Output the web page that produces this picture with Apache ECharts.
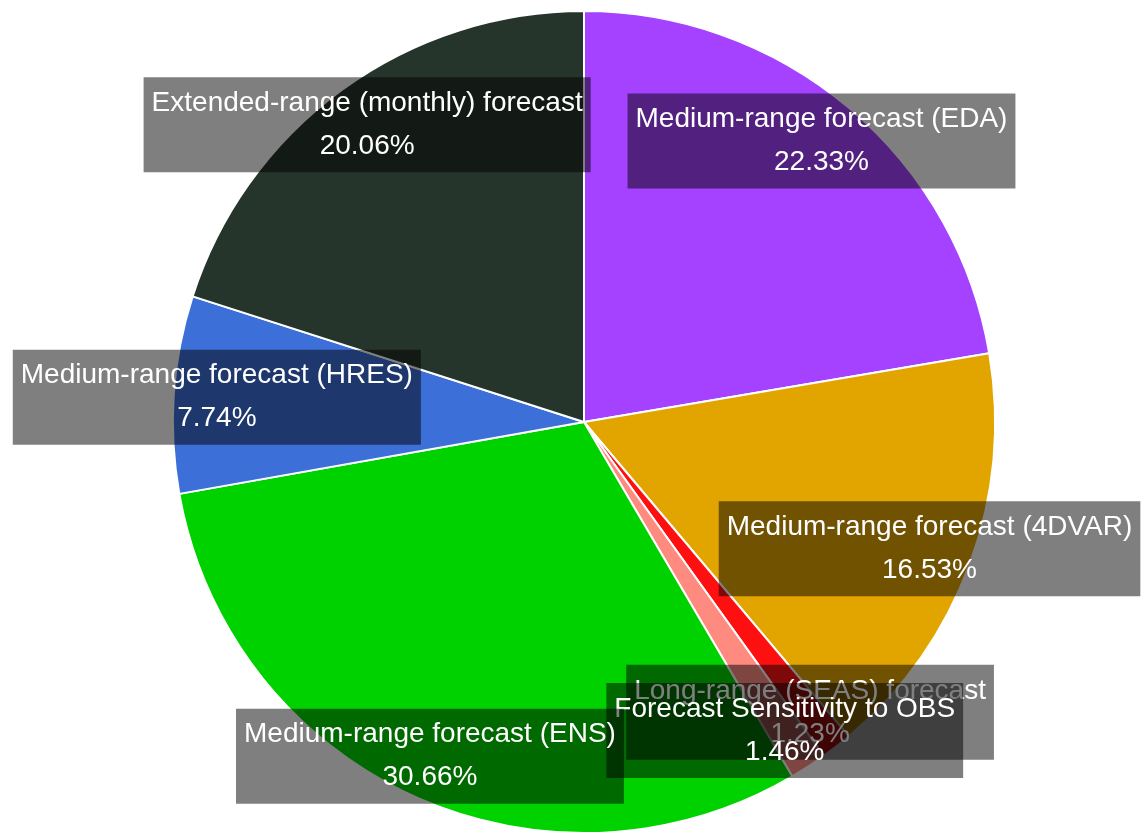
<!DOCTYPE html>
<html>
<head>
<meta charset="utf-8">
<script src="https://cdn.jsdelivr.net/npm/echarts@6/dist/echarts.min.js"></script>
<style>
html,body{margin:0;padding:0;background:#fff;}
#chart{width:1141px;height:835px;}
</style>
</head>
<body>
<div id="chart"></div>
<script>
var categories = [
  'Medium-range forecast (EDA)',
  'Medium-range forecast (4DVAR)',
  'Long-range (SEAS) forecast',
  'Forecast Sensitivity to OBS',
  'Medium-range forecast (ENS)',
  'Medium-range forecast (HRES)',
  'Extended-range (monthly) forecast'
];
var shares = [22.33, 16.53, 1.23, 1.46, 30.66, 7.74, 20.06];
var colors = ['#a442ff', '#e2a500', '#ff1010', '#ff8a80', '#00d200', '#3c6fd8', '#26352b'];

var pieData = categories.map(function (n, i) {
  return { name: n, value: shares[i], itemStyle: { color: colors[i] } };
});
var labelData = categories.map(function (n, i) {
  return { name: n, value: shares[i] };
});

var chart = echarts.init(document.getElementById('chart'));
chart.setOption({
  animation: false,
  series: [
    {
      type: 'pie',
      center: [584, 422],
      radius: [0, 411],
      startAngle: 90,
      clockwise: true,
      data: pieData,
      itemStyle: { borderColor: '#ffffff', borderWidth: 2 },
      label: { show: false },
      labelLine: { show: false },
      silent: true,
      z: 1
    },
    {
      type: 'pie',
      center: [584, 422],
      radius: [319, 411],
      startAngle: 90,
      clockwise: true,
      avoidLabelOverlap: false,
      minShowLabelAngle: 0,
      data: labelData,
      silent: true,
      z: 5,
      itemStyle: { color: 'rgba(0,0,0,0)', borderWidth: 0 },
      labelLine: { show: false },
      labelLayout: { hideOverlap: false },
      label: {
        show: true,
        position: 'inside',
        formatter: function (p) { return p.name + '\n' + p.value.toFixed(2) + '%'; },
        color: '#ffffff',
        fontFamily: 'Liberation Sans, Arial, sans-serif',
        fontSize: 28,
        lineHeight: 43,
        align: 'center',
        backgroundColor: 'rgba(0,0,0,0.5)',
        padding: [6, 8, 3, 8]
      }
    }
  ]
});
</script>
</body>
</html>
